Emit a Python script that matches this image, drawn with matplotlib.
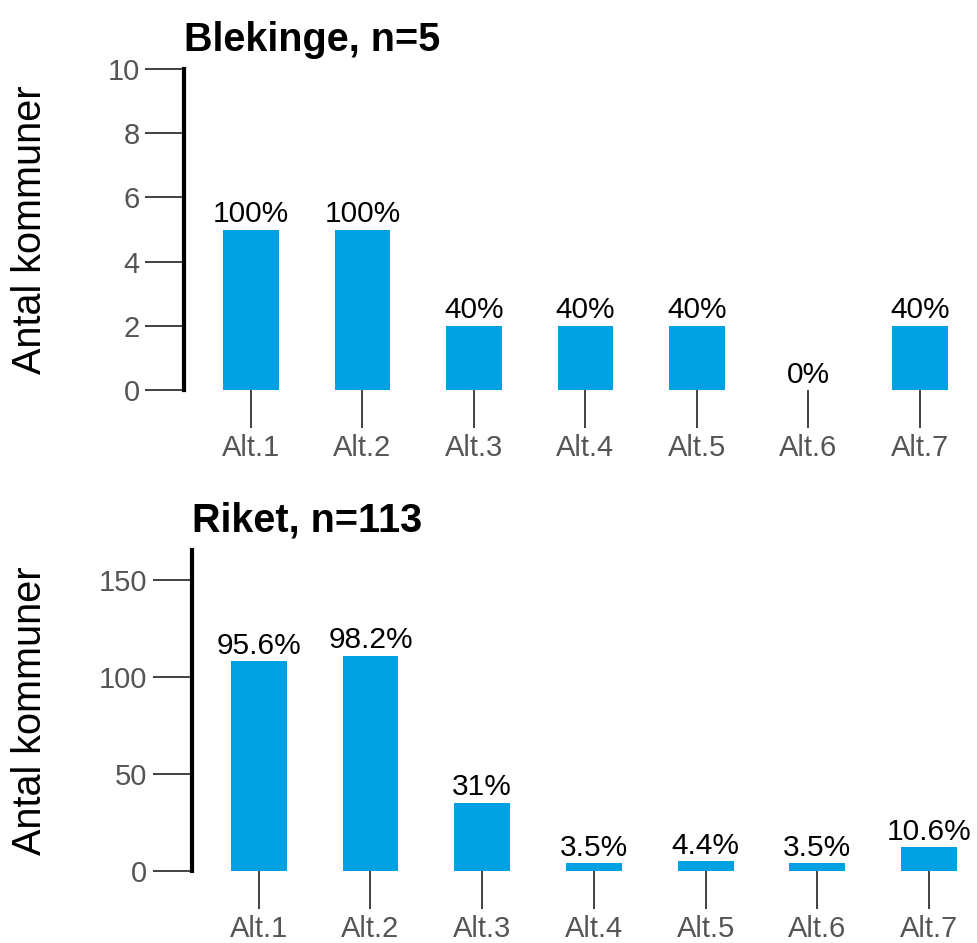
import matplotlib
matplotlib.use("Agg")
import numpy as np
import matplotlib.pyplot as plt

# ── Data ───────────────────────────────────────────────────────────
categories = ["Alt.1", "Alt.2", "Alt.3", "Alt.4", "Alt.5", "Alt.6", "Alt.7"]

blekinge_counts = [5, 5, 2, 2, 2, 0, 2]
blekinge_pct = ["100%", "100%", "40%", "40%", "40%", "0%", "40%"]

riket_counts = [108, 111, 35, 4, 5, 4, 12]
riket_pct = ["95.6%", "98.2%", "31%", "3.5%", "4.4%", "3.5%", "10.6%"]

# ── Style ──────────────────────────────────────────────────────────
BAR_CLR = "#00A0E3"
TICK_CLR = "#555555"
plt.rcParams["font.family"] = ["Liberation Sans", "DejaVu Sans"]

W, H = 978, 943
fig = plt.figure(figsize=(W / 100, H / 100), dpi=100)


def panel(rect, counts, pcts, title, ylim, yticks):
    ax = fig.add_axes(rect)
    x = np.arange(len(categories))
    ax.bar(x, counts, width=0.5, color=BAR_CLR, zorder=3)
    for xi, c, p in zip(x, counts, pcts):
        ax.annotate(p, (xi, c), xytext=(0, 1), textcoords="offset points",
                    ha="center", va="bottom", fontsize=21.5, color="black")

    ax.set_xlim(-0.6, 6.4)
    ax.set_ylim(*ylim)
    ax.set_xticks(x)
    ax.set_xticklabels(categories)
    ax.set_yticks(yticks)

    for s in ("top", "right", "bottom"):
        ax.spines[s].set_visible(False)
    ax.spines["left"].set_linewidth(3)
    ax.spines["left"].set_color("black")

    ax.tick_params(axis="y", length=28, width=1.3, color="#333333",
                   labelcolor=TICK_CLR, labelsize=21, pad=4)
    ax.tick_params(axis="x", length=27, width=1.3, color="#333333",
                   labelcolor=TICK_CLR, labelsize=21, pad=5)

    ax.set_title(title, loc="left", fontsize=28.5, fontweight="bold", pad=13)

    # y label centred on the panel, near the left figure edge
    y_mid = rect[1] + rect[3] / 2
    fig.text(30 / W, y_mid, "Antal kommuner", rotation=90, fontsize=28.5,
             ha="center", va="center")
    return ax


panel([184 / W, 1 - 390 / H, 780.5 / W, 321 / H],
      blekinge_counts, blekinge_pct, "Blekinge, n=5",
      (0, 10), [0, 2, 4, 6, 8, 10])

panel([191.7 / W, 1 - 870.7 / H, 782 / W, 320.7 / H],
      riket_counts, riket_pct, "Riket, n=113",
      (0, 165.5), [0, 50, 100, 150])

fig.savefig("out.png", dpi=100)
